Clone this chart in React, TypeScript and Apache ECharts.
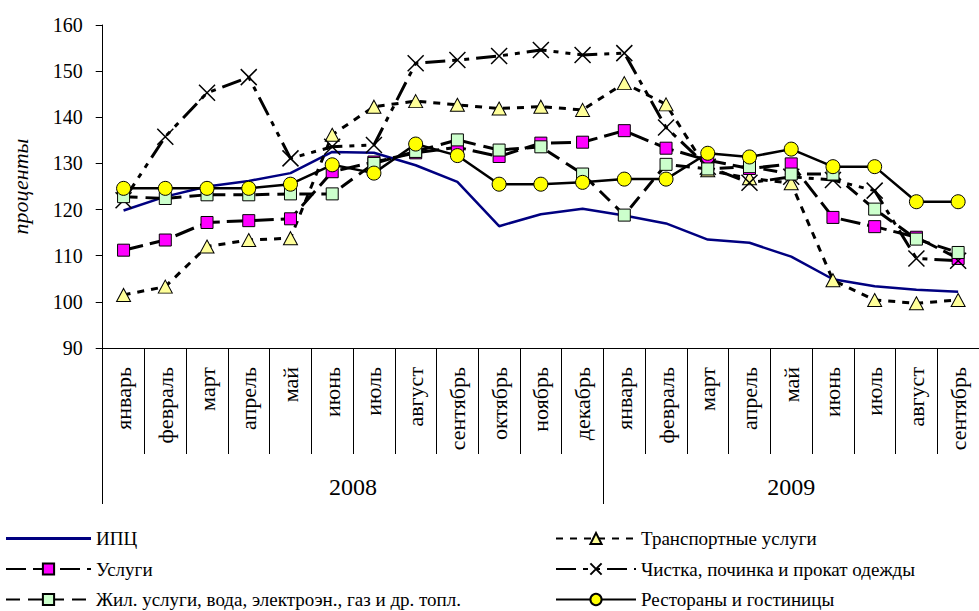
import React, { useEffect, useRef } from "react";
import * as echarts from "echarts";

const months = [
  "январь", "февраль", "март", "апрель", "май", "июнь", "июль", "август",
  "сентябрь", "октябрь", "ноябрь", "декабрь",
  "январь", "февраль", "март", "апрель", "май", "июнь", "июль", "август", "сентябрь",
];
const years = ["2008", "2009"];
const yearTicks = [0, 12, 21];
const yearLabelPos = [6, 16.5];

const cpi = [119.8, 122.8, 125.0, 126.2, 127.9, 132.5, 132.3, 129.6, 126.0, 116.4, 119.0, 120.2, 118.7, 117.0, 113.5, 112.8, 109.8, 104.9, 103.4, 102.6, 102.2];
const transport = [101.5, 103.3, 112.0, 113.4, 113.8, 136.2, 142.3, 143.5, 142.7, 141.9, 142.3, 141.6, 147.4, 142.8, 128.5, 126.8, 125.7, 104.7, 100.4, 99.7, 100.4];
const services = [111.2, 113.4, 117.2, 117.6, 118.0, 128.2, 130.3, 132.3, 133.5, 131.5, 134.4, 134.6, 137.1, 133.3, 130.7, 128.9, 129.9, 118.3, 116.3, 114.0, 109.4];
const cleaning = [122.0, 135.8, 145.3, 148.7, 131.1, 133.6, 134.0, 151.7, 152.4, 153.3, 154.6, 153.5, 153.9, 137.8, 129.3, 125.8, 127.1, 126.4, 124.1, 109.4, 108.9];
const housing = [122.8, 122.4, 123.2, 123.2, 123.4, 123.4, 130.0, 132.6, 135.1, 132.9, 133.6, 127.7, 118.8, 129.8, 128.8, 129.3, 127.7, 127.7, 120.1, 113.6, 110.7];
const restaurants = [124.6, 124.6, 124.6, 124.6, 125.5, 129.7, 127.9, 134.2, 131.7, 125.5, 125.5, 125.9, 126.6, 126.6, 132.2, 131.4, 133.1, 129.3, 129.3, 121.7, 121.7];

const names = {
  cpi: "ИПЦ",
  transport: "Транспортные услуги",
  services: "Услуги",
  cleaning: "Чистка, починка и прокат одежды",
  housing: "Жил. услуги, вода, электроэн., газ и др. топл.",
  restaurants: "Рестораны и гостиницы",
};

const FONT = "Liberation Serif";

export default function App() {
  const ref = useRef<HTMLDivElement>(null);
  useEffect(() => {
    if (!ref.current) return;
    const chart = echarts.init(ref.current, null, { renderer: "svg" });
    const border = { borderColor: "#000", borderWidth: 1 };
    const legendText = { fontFamily: FONT, fontSize: 19, color: "#000" };
    chart.setOption({
      animation: false,
      backgroundColor: "#fff",
      textStyle: { fontFamily: FONT },
      grid: { left: 102.7, top: 25, width: 889, height: 323, containLabel: false },
      xAxis: [
        {
          type: "category",
          data: months,
          boundaryGap: true,
          position: "bottom",
          axisLine: { show: true, lineStyle: { color: "#000", width: 1 } },
          axisTick: { show: true, interval: 0, length: 106, lineStyle: { color: "#000", width: 1 } },
          axisLabel: {
            interval: 0,
            rotate: 90,
            margin: 19,
            color: "#000",
            fontFamily: FONT,
            fontSize: 22,
          },
          splitLine: { show: false },
        },
        {
          type: "value",
          min: 0,
          max: 21,
          position: "bottom",
          axisLine: { show: false },
          axisTick: { show: true, customValues: yearTicks, length: 156, lineStyle: { color: "#000", width: 1 } },
          axisLabel: {
            customValues: yearLabelPos,
            formatter: (v: number) => (v < 12 ? years[0] : years[1]),
            margin: 127,
            color: "#000",
            fontFamily: FONT,
            fontSize: 24,
          },
          splitLine: { show: false },
        },
      ],
      yAxis: {
        type: "value",
        min: 90,
        max: 160,
        interval: 10,
        name: "проценты",
        nameLocation: "middle",
        nameGap: 71,
        nameTextStyle: { fontFamily: FONT, fontSize: 22, fontStyle: "italic", color: "#000" },
        axisLine: { show: true, lineStyle: { color: "#000", width: 1 } },
        axisTick: { show: true, length: 7, lineStyle: { color: "#000" } },
        axisLabel: { color: "#000", fontFamily: FONT, fontSize: 20, margin: 20 },
        splitLine: { show: false },
      },
      legend: [
        {
          orient: "vertical",
          left: 5,
          top: 529,
          height: 100,
          padding: 0,
          itemWidth: 85,
          itemHeight: 14,
          itemGap: 11.5,
          data: [
            { name: names.cpi, icon: "path://M0,0L80,0L80,3L0,3Z" },
            names.services,
            names.housing,
          ],
          textStyle: legendText,
        },
        {
          orient: "vertical",
          left: 555,
          top: 529,
          height: 100,
          padding: 0,
          itemWidth: 80,
          itemHeight: 14,
          itemGap: 11.5,
          data: [names.transport, names.cleaning, names.restaurants],
          textStyle: legendText,
        },
      ],
      series: [
        {
          name: names.cpi,
          type: "line",
          data: cpi,
          symbol: "none",
          lineStyle: { color: "#000080", width: 2.5 },
          itemStyle: { color: "#000080" },
        },
        {
          name: names.transport,
          type: "line",
          data: transport,
          symbol: "triangle",
          symbolSize: [14, 13],
          lineStyle: { color: "#000", width: 3, type: [7, 7] },
          itemStyle: { color: "#FFFF99", ...border },
        },
        {
          name: names.services,
          type: "line",
          data: services,
          symbol: "rect",
          symbolSize: 12,
          lineStyle: { color: "#000", width: 3, type: [20, 7] },
          itemStyle: { color: "#FF00FF", ...border },
        },
        {
          name: names.cleaning,
          type: "line",
          data: cleaning,
          symbol: "path://M0,0L10,10M10,0L0,10",
          symbolSize: 16,
          lineStyle: { color: "#000", width: 3, type: [20, 7, 5, 7, 5, 7] },
          itemStyle: { color: "transparent", borderColor: "#000", borderWidth: 1.5 },
        },
        {
          name: names.housing,
          type: "line",
          data: housing,
          symbol: "rect",
          symbolSize: 12,
          lineStyle: { color: "#000", width: 3, type: [14, 8] },
          itemStyle: { color: "#CCFFCC", ...border },
        },
        {
          name: names.restaurants,
          type: "line",
          data: restaurants,
          symbol: "circle",
          symbolSize: 14,
          lineStyle: { color: "#000", width: 2.5 },
          itemStyle: { color: "#FFFF00", ...border },
        },
      ],
    });
    return () => chart.dispose();
  }, []);
  return (
    <div
      ref={ref}
      style={{ position: "absolute", left: 0, top: 0, width: 979, height: 611, overflow: "hidden" }}
    />
  );
}
